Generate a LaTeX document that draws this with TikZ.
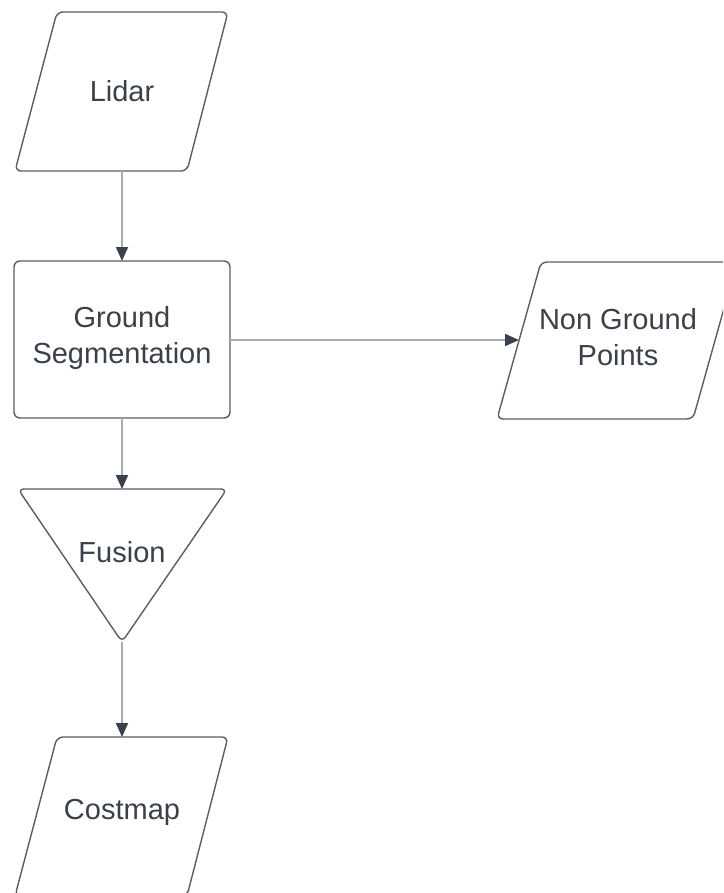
\documentclass[tikz,border=0pt]{standalone}
\usepackage{fontspec}
\setmainfont{Liberation Sans}
\usetikzlibrary{arrows.meta}
\definecolor{txt}{HTML}{3A414A}
\definecolor{edge}{HTML}{5A5E64}
\definecolor{conn}{HTML}{A8ACB1}
\tikzset{
  shapeline/.style={draw=edge, line width=1.4pt, rounded corners=6pt, fill=white},
  lbl/.style={text=txt, font=\fontsize{29}{36}\selectfont, align=center, inner sep=0pt},
  conn/.style={draw=conn, line width=2pt, -{Triangle[length=14pt,width=12pt,color=txt]}}
}
\begin{document}
\begin{tikzpicture}[x=1pt,y=-1pt]
\clip (0,0) rectangle (723,893);
\useasboundingbox (0,0) rectangle (723,893);
% Lidar
\draw[shapeline] (57,12) -- (228,12) -- (187,171) -- (15,171) -- cycle;
\node[lbl] (lidar) at (122,91) {Lidar};
\coordinate (lidarB) at (122,171);
% Ground Segmentation
\draw[shapeline] (14,261) rectangle (230,418);
\node[lbl] (gs) at (122,338) {Ground\\Segmentation};
\coordinate (gsT) at (122,261);
\coordinate (gsR) at (230,340);
\coordinate (gsB) at (122,418);
% Non Ground Points
\draw[shapeline] (541,262) -- (737,262) -- (693,419) -- (497,419) -- cycle;
\node[lbl] (ng) at (618,337) {Non Ground\\Points};
\coordinate (ngL) at (519,340);
% Fusion
\draw[shapeline] (18,489) -- (227,489) -- (122,642) -- cycle;
\node[lbl] (fusion) at (122,552) {Fusion};
\coordinate (fuT) at (122,489);
\coordinate (fuB) at (122,642);
% Costmap
\draw[shapeline] (57,737) -- (228,737) -- (187,896) -- (15,896) -- cycle;
\node[lbl] (cost) at (122,812) {Costmap};
\coordinate (coT) at (122,737);
% connectors
\draw[conn] (lidarB) -- (gsT);
\draw[conn] (gsR) -- (ngL);
\draw[conn] (gsB) -- (fuT);
\draw[conn] (fuB) -- (coT);
\end{tikzpicture}
\end{document}
